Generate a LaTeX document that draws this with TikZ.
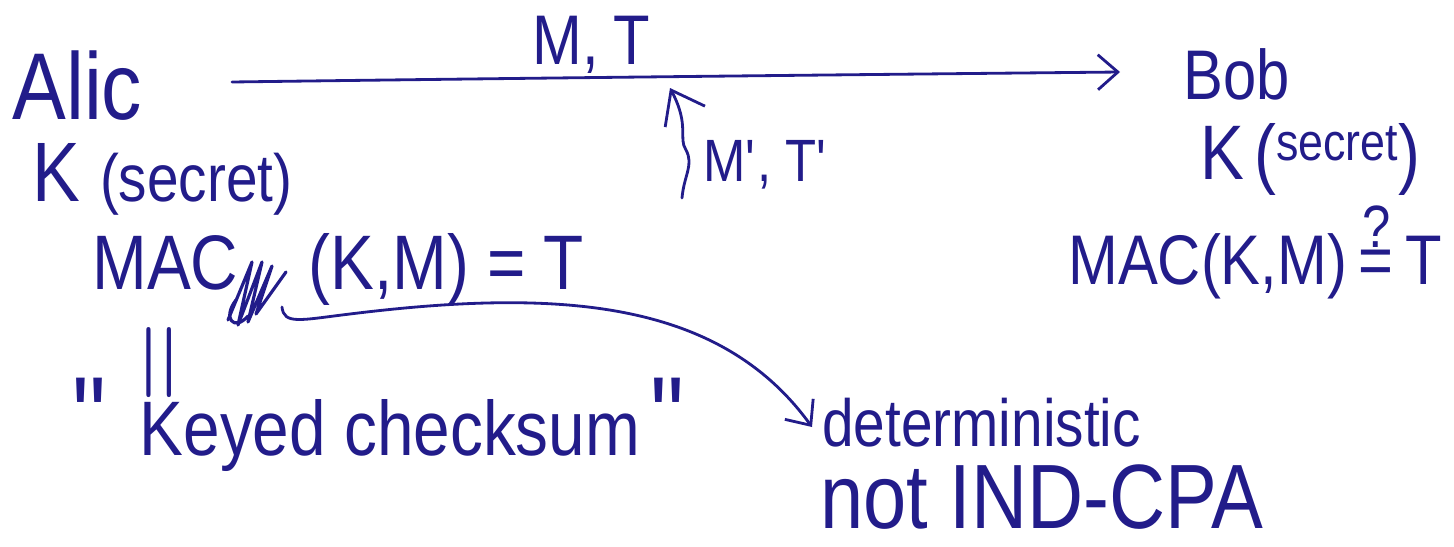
\documentclass[tikz,border=0pt]{standalone}
\usepackage{fontspec}
\setmainfont{Liberation Sans}[FakeStretch=0.85]
\usetikzlibrary{arrows.meta}
\definecolor{ink}{RGB}{34,28,138}

\begin{document}
\begin{tikzpicture}[
  x=0.02cm, y=-0.02cm,
  every node/.style={text=ink, inner sep=0pt, anchor=base west},
  hand/.style={font=\fontsize{#1}{#1}\selectfont},
  arrow/.style={-{Straight Barb[length=4mm, width=7mm]}, draw=ink, line width=1.6pt, line cap=round, line join=round},
  scribble/.style={draw=ink, line width=1.8pt, line join=round, line cap=round},
]
\useasboundingbox (0,0) rectangle (1454,547);

% Sender side
\node[hand=54] (alice) at (12,120) {Alic};
\node[hand=48] (kalice) at (32,202) {K \fontsize{38}{40}\selectfont(secret)};
\node[hand=44] (macA) at (92,290) {MAC\hspace{1.4cm}(K,M) = T};
\node[anchor=center, rotate=90] (eqA) at (166,363) {\scalebox{6}{$=$}};
\node[hand=44] (keyed) at (72,455) {{\fontsize{64}{64}\selectfont\textquotedbl}\hspace{0.55cm}Keyed checksum\hspace{0.2cm}{\fontsize{64}{64}\selectfont\textquotedbl}};

% Message on the channel
\node[hand=40] (mt) at (532,65) {M,\hspace{0.3cm}T};
\node[hand=34] (mprime) at (703,182) {M\textquotesingle, T\textquotesingle};

% Receiver side
\node[hand=40] (bob) at (1183,100) {Bob};
\node[hand=44] (kbob) at (1200,180) {K\hspace{0.2cm}(\raisebox{0.4cm}{\fontsize{30}{32}\selectfont secret})};
\node[hand=40] (macB) at (1068,285) {MAC(K,M)\,$\stackrel{\mbox{\fontsize{34}{34}\selectfont ?}}{\mbox{=}}$\,T};

% Consequences
\node[hand=38] (det) at (822,446) {deterministic};
\node[hand=52] (nocpa) at (820,528) {not IND-CPA};

% Channel
\draw[arrow] ([xshift=4.4cm, yshift=0.76cm]alice.base west) .. controls +(300,-4) and +(-300,3) .. ([xshift=-1.26cm, yshift=0.56cm]bob.base west);

% Forgery attempt
\draw[arrow, -{Straight Barb[length=6mm, width=9mm]}] ([xshift=-0.42cm, yshift=-0.32cm]mprime.base west) .. controls (684,175) and (694,165) .. (686,150) .. controls (678,138) and (690,126) .. ([xshift=-0.66cm, yshift=1.88cm]mprime.base west);

% Scribbled subscript
\draw[scribble] (228,320) -- (252,262) -- (238,325) -- (262,262) -- (248,322) -- (272,266) -- (256,314) -- (286,272);
\draw[scribble] (236,300) .. controls (222,318) and (234,332) .. (248,316);

% Why: determinism
\draw[arrow] ([xshift=3.8cm, yshift=-0.34cm]macA.base west) .. controls (284,325) and (300,320) .. (350,314) .. controls (560,288) and (720,300) .. ([xshift=-0.2cm, yshift=0.38cm]det.base west);

\end{tikzpicture}
\end{document}
